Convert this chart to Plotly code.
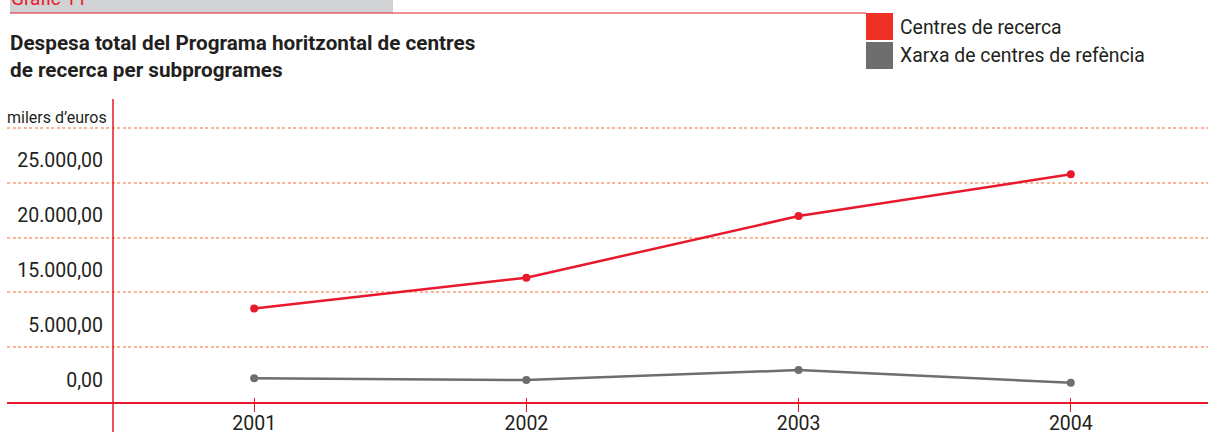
import plotly.graph_objects as go

# ---- data ----
years = [2001, 2002, 2003, 2004]
centres_recerca = [11500, 14300, 19900, 23700]
xarxa_centres = [5150, 5000, 5900, 4750]
ytick_vals = [5000, 10000, 15000, 20000, 25000]
ytick_text = ["0,00", "5.000,00", "15.000,00", "20.000,00", "25.000,00"]
series_names = ["Centres de recerca", "Xarxa de centres de refència"]

# ---- styling ----
W, H = 1208, 436
L, R, T, B = 7, 0, 99, 34
PW, PH = W - L - R, H - T - B
RED = "#E8192C"
LEG_RED = "#EE3124"
GREY = "#6D6E70"
GRID = "#F8B59C"
TXT = "#231F20"
FONT = "Roboto, sans-serif"

def px(xp):
    return (xp - L) / PW

def py(yp):
    return (H - B - yp) / PH

y_range = [3000, 30545]
x_range = [2000.092, 2004.504]

fig = go.Figure()
fig.add_trace(go.Scatter(x=years, y=centres_recerca, name=series_names[0], mode="lines+markers",
                         line=dict(color=RED, width=2.5), marker=dict(color=RED, size=8),
                         xaxis="x", yaxis="y"))
fig.add_trace(go.Scatter(x=years, y=xarxa_centres, name=series_names[1], mode="lines+markers",
                         line=dict(color=GREY, width=2.5), marker=dict(color=GREY, size=8),
                         xaxis="x2", yaxis="y2"))

grid_step = (27909 - y_range[0]) / 5

fig.update_layout(
    width=W, height=H, margin=dict(l=L, r=R, t=T, b=B, autoexpand=False),
    paper_bgcolor="white", plot_bgcolor="white", showlegend=False,
    font=dict(family=FONT, color=TXT),
    xaxis=dict(range=x_range, tickvals=years, ticktext=[str(y) for y in years], automargin=False,
               showgrid=False, zeroline=False, showline=True, linecolor=RED, linewidth=1.5,
               ticks="inside", ticklen=4, tickcolor=RED, tickwidth=1.2, ticklabelstandoff=3,
               tickfont=dict(size=19.5, color=TXT, family=FONT)),
    xaxis2=dict(range=x_range, overlaying="x", anchor="free", position=0, tickvals=years,
                automargin=False, showticklabels=False, ticks="outside", ticklen=9, tickcolor=RED,
                tickwidth=1.2, showgrid=False, zeroline=False, showline=False),
    yaxis=dict(range=y_range, tick0=y_range[0], dtick=grid_step, showticklabels=False,
               automargin=False, showgrid=True, gridcolor=GRID, gridwidth=1.6, griddash="3px,2.5px",
               zeroline=False, showline=False, ticks=""),
    yaxis2=dict(range=y_range, overlaying="y", anchor="free", position=px(113), side="left",
                automargin=False, tickvals=ytick_vals, ticktext=ytick_text, showgrid=False,
                zeroline=False, showline=False, ticks="", ticklabelstandoff=10,
                tickfont=dict(size=19.5, color=TXT, family=FONT)),
)

shapes = [
    # header grey band and red rule
    dict(type="rect", xref="paper", yref="paper", x0=px(10), x1=px(393), y0=py(13), y1=py(-2),
         fillcolor="#D1D2D4", line=dict(width=0), layer="below"),
    dict(type="line", xref="paper", yref="paper", x0=px(10), x1=px(866), y0=py(13), y1=py(13),
         line=dict(color=RED, width=1.2)),
    # legend swatches
    dict(type="rect", xref="paper", yref="paper", x0=px(866), x1=px(893), y0=py(40), y1=py(13),
         fillcolor=LEG_RED, line=dict(width=0)),
    dict(type="rect", xref="paper", yref="paper", x0=px(866), x1=px(893), y0=py(69), y1=py(42),
         fillcolor=GREY, line=dict(width=0)),
    # vertical value axis line
    dict(type="line", xref="paper", yref="paper", x0=px(113), x1=px(113), y0=py(432), y1=py(99),
         line=dict(color=RED, width=1.5)),
]
fig.update_layout(shapes=shapes)

annotations = [
    dict(text="Gràfic 11", x=px(9), y=py(12), xanchor="left", yanchor="bottom",
         font=dict(size=19, color=RED)),
    dict(text="<b>Despesa total del Programa horitzontal de centres<br>de recerca per subprogrames</b>",
         x=px(8), y=py(29), xanchor="left", yanchor="top", align="left",
         font=dict(size=20.7, color=TXT)),
    dict(text=series_names[0], x=px(898), y=py(28), xanchor="left", yanchor="middle",
         font=dict(size=19.4, color=TXT)),
    dict(text=series_names[1], x=px(898), y=py(56), xanchor="left", yanchor="middle",
         font=dict(size=19.4, color=TXT)),
    dict(text="milers d’euros", x=px(5), y=py(117), xanchor="left", yanchor="middle",
         font=dict(size=16, color=TXT)),
]
for a in annotations:
    a.update(xref="paper", yref="paper", showarrow=False)
fig.update_layout(annotations=annotations)

fig.write_html("out.html", config={"displayModeBar": False},
               post_script="document.body.style.margin='0';document.body.style.overflow='hidden';")
